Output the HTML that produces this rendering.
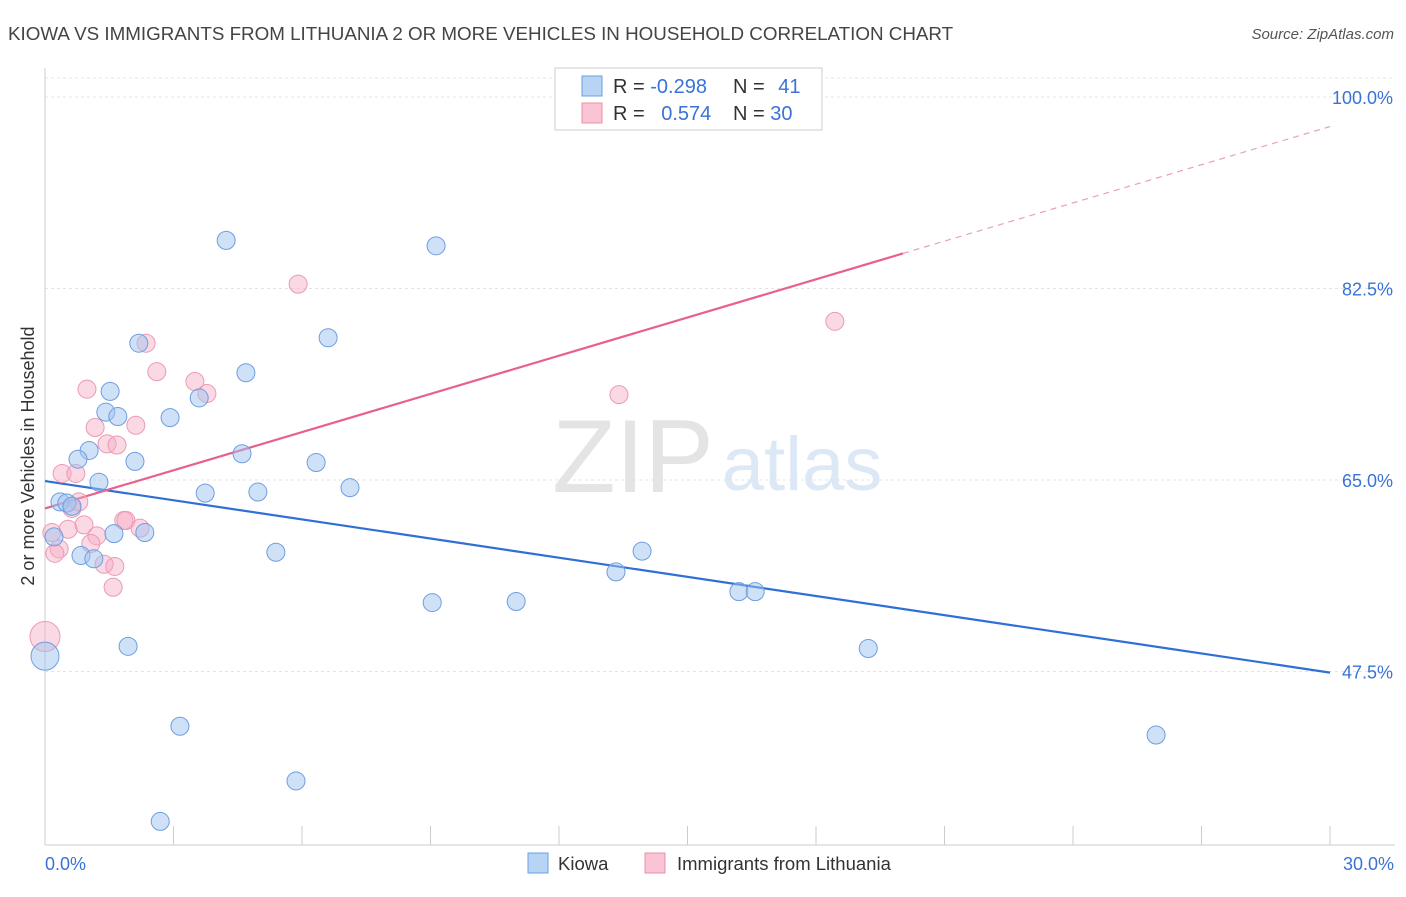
<!DOCTYPE html>
<html><head><meta charset="utf-8"><style>
body{margin:0;background:#fff;font-family:"Liberation Sans",sans-serif;}
svg text{font-family:"Liberation Sans",sans-serif;}
</style></head><body>
<svg id="chart" width="1406" height="892">
<text x="8" y="40" font-size="18.8" fill="#444">KIOWA VS IMMIGRANTS FROM LITHUANIA 2 OR MORE VEHICLES IN HOUSEHOLD CORRELATION CHART</text>
<text x="1394" y="39" font-size="15" fill="#555" font-style="italic" text-anchor="end">Source: ZipAtlas.com</text>
<text x="633" y="492" font-size="104" fill="#e4e4e4" font-family="Liberation Serif" text-anchor="middle">ZIP</text>
<text x="802" y="490" font-size="76" fill="#dce8f6" text-anchor="middle">atlas</text>
<g id="grid"></g>
<line x1="45" y1="68" x2="45" y2="845" stroke="#ccc"/>
<line x1="45" y1="845" x2="1395" y2="845" stroke="#ccc"/>
<g id="xticks"></g>
<text x="34" y="456" font-size="18" fill="#333" text-anchor="middle" transform="rotate(-90 34 456)">2 or more Vehicles in Household</text>
<text x="45" y="870" font-size="18" fill="#3a72d8">0.0%</text>
<text x="1394" y="870" font-size="18" fill="#3a72d8" text-anchor="end">30.0%</text>
<g id="lines"></g>
<g id="pts"></g>
<g>
<rect x="555" y="68" width="267" height="62" fill="#fff" stroke="#ccc"/>
<rect x="582" y="76" width="20" height="20" fill="#b8d4f4" stroke="#6a9fe0"/>
<rect x="582" y="103" width="20" height="20" fill="#f9c4d4" stroke="#e890a8"/>
<text x="613" y="93" font-size="20" fill="#333">R = <tspan fill="#3a72d8">-0.298</tspan></text>
<text x="733" y="93" font-size="20" fill="#333">N = <tspan fill="#3a72d8" dx="8">41</tspan></text>
<text x="613" y="120" font-size="20" fill="#333">R = <tspan fill="#3a72d8" dx="11">0.574</tspan></text>
<text x="733" y="120" font-size="20" fill="#333">N = <tspan fill="#3a72d8">30</tspan></text>
</g>
<g>
<rect x="528" y="853" width="20" height="20" fill="#b8d4f4" stroke="#6a9fe0"/>
<text x="558" y="870" font-size="18.5" fill="#333">Kiowa</text>
<rect x="645" y="853" width="20" height="20" fill="#f9c4d4" stroke="#e890a8"/>
<text x="677" y="870" font-size="18.5" fill="#333">Immigrants from Lithuania</text>
</g>
</svg>
<script>
const yTicks=[100,82.5,65,47.5];
const yTickLabels=["100.0%","82.5%","65.0%","47.5%"];
const kiowaX=[4.23,9.13,2.19,6.61,4.69,1.52,3.60,1.42,1.70,2.92,1.03,0.77,2.10,4.60,6.33,1.26,3.74,4.97,7.12,0.35,0.51,0.63,0.21,1.61,2.33,0.84,1.14,5.39,13.94,13.33,9.04,11.0,16.2,16.58,1.94,19.22,0,3.15,25.94,5.86,2.69];
const kiowaY=[86.9,86.4,77.5,78.0,74.8,73.1,72.5,71.2,70.8,70.7,67.7,66.9,66.7,67.4,66.6,64.8,63.8,63.9,64.3,63.0,62.9,62.6,59.8,60.1,60.2,58.1,57.8,58.4,58.5,56.6,53.8,53.9,54.8,54.8,49.8,49.6,48.9,42.5,41.7,37.5,33.8];
const kiowaBig=[36];
const lithX=[5.91,18.44,2.36,2.61,0.98,3.50,3.78,13.40,2.12,1.17,1.45,1.68,0.40,0.72,0.79,0.63,1.84,1.89,0.91,0.54,0.16,1.21,2.22,0.33,1.07,0.23,1.38,1.63,1.59,0];
const lithY=[82.9,79.5,77.5,74.9,73.3,74.0,72.9,72.8,70.0,69.8,68.3,68.2,65.6,65.6,63.0,62.4,61.3,61.3,60.9,60.5,60.2,59.9,60.6,58.7,59.2,58.3,57.3,57.1,55.2,50.7];
const lithBig=[29];
const kiowaTrend=[64.9,47.4];
const lithTrend=[62.4,97.3];
const lithSolidEnd=20.03;
const xTickVals=[0,3,6,9,12,15,18,21,24,27,30];

const NS="http://www.w3.org/2000/svg";
const sx=v=>45+v*(1285/30);
const sy=v=>97+(100-v)*10.943;
function mk(tag,attrs,parent){const e=document.createElementNS(NS,tag);for(const k in attrs)e.setAttribute(k,attrs[k]);document.getElementById(parent).appendChild(e);return e;}

const tl=mk('line',{x1:45,y1:78,x2:1395,y2:78,stroke:'#e4e4e4','stroke-dasharray':'3,3'},'grid');


yTicks.forEach((t,i)=>{
  const g=mk('line',{x1:45,y1:sy(t),x2:1395,y2:sy(t),stroke:'#e4e4e4','stroke-dasharray':'3,3'},'grid');
  
  
  const tx=mk('text',{x:1393,y:sy(t)+7,'font-size':18,fill:'#3a72d8','text-anchor':'end'},'grid');
  tx.textContent=yTickLabels[i];
  
  
});
xTickVals.forEach(v=>{
  const t=mk('line',{x1:sx(v),y1:826,x2:sx(v),y2:845,stroke:'#ccc'},'xticks');
  
  
});
const bl=mk('line',{x1:sx(0),y1:sy(kiowaTrend[0]),x2:sx(30),y2:sy(kiowaTrend[1]),stroke:'#2f6fd6','stroke-width':2.2},'lines');


const pAt=x=>lithTrend[0]+(lithTrend[1]-lithTrend[0])*x/30;
const pl=mk('line',{x1:sx(0),y1:sy(lithTrend[0]),x2:sx(lithSolidEnd),y2:sy(pAt(lithSolidEnd)),stroke:'#e8608c','stroke-width':2.2},'lines');


const pd=mk('line',{x1:sx(lithSolidEnd),y1:sy(pAt(lithSolidEnd)),x2:sx(30),y2:sy(lithTrend[1]),stroke:'#e8a0b8','stroke-width':1.2,'stroke-dasharray':'6,5'},'lines');


lithX.forEach((x,i)=>{
  const c=mk('circle',{cx:sx(x),cy:sy(lithY[i]),r:lithBig.includes(i)?15:9,fill:'rgba(246,170,196,0.45)',stroke:'#eb9ab4','stroke-width':1},'pts');
  
  
});
kiowaX.forEach((x,i)=>{
  const c=mk('circle',{cx:sx(x),cy:sy(kiowaY[i]),r:kiowaBig.includes(i)?14:9,fill:'rgba(160,196,240,0.5)',stroke:'#6e9ee0','stroke-width':1},'pts');
  
  
});
</script>
</body></html>
